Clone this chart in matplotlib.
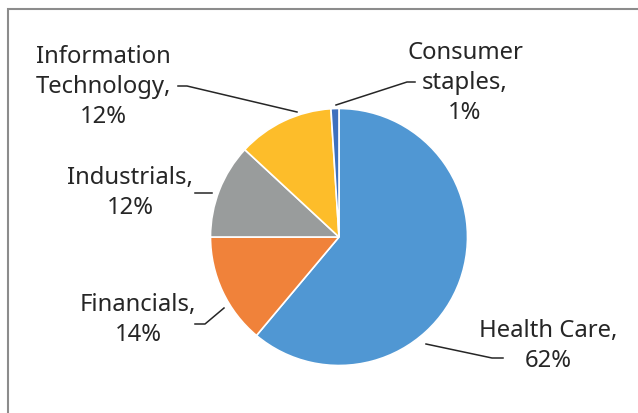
import matplotlib
matplotlib.use("Agg")
import matplotlib.pyplot as plt
from matplotlib.patches import Rectangle

# sector shares (percent), clockwise from 12 o'clock
sectors = ["Health Care", "Financials", "Industrials",
           "Information\nTechnology", "Consumer\nstaples"]
shares = [61.1, 13.9, 11.9, 12.1, 1.0]
pct_labels = ["62%", "14%", "12%", "12%", "1%"]
colors = ["#5097D3", "#F0823A", "#999C9C", "#FDBD2A", "#3E70BE"]

W, H = 638, 414
CENTER = (339, 238)      # pixel coords, y down
RADIUS = 128.5

# label anchors (pixel coords) and leader polylines, same order as sectors
label_pos = [(548, 346), (138, 320), (130, 193), (103, 87), (465, 83)]
leaders = [
    [(426, 345), (492, 359), (503, 359)],
    [(224, 309), (205, 325), (195, 325)],
    [(212, 194), (195, 194)],
    [(297, 113), (187, 87), (178, 87)],
    [(336, 106), (407, 83), (415, 83)],
]

TEXT_COLOR = "#262626"


def fy(y):
    # pixel y (down) -> data y (up)
    return H - y


def plot_chart():
    plt.rcParams["font.family"] = ["Noto Sans", "DejaVu Sans"]
    fig = plt.figure(figsize=(W / 100, H / 100), dpi=100)
    ax = fig.add_axes([0, 0, 1, 1])

    ax.pie(shares, colors=colors, startangle=90, counterclock=False,
           center=(CENTER[0], fy(CENTER[1])), radius=RADIUS,
           wedgeprops=dict(edgecolor="white", linewidth=1.2))

    for name, pct, (x, y) in zip(sectors, pct_labels, label_pos):
        ax.text(x, fy(y), f"{name},\n{pct}", ha="center", va="center",
                fontsize=17.2, color=TEXT_COLOR, linespacing=1.35)

    for pts in leaders:
        xs = [p[0] for p in pts]
        ys = [fy(p[1]) for p in pts]
        ax.plot(xs, ys, color=TEXT_COLOR, linewidth=1.1)

    ax.set_xlim(0, W)
    ax.set_ylim(0, H)
    ax.set_aspect("equal")
    ax.axis("off")

    # chart area border (runs off the right and bottom edges)
    fig.patches.append(Rectangle((7.5 / W, -0.1), 1.2, 1.1 - 10.5 / H,
                                 transform=fig.transFigure, fill=False,
                                 edgecolor="#8C8C8C", linewidth=1.5))

    fig.savefig("out.png", dpi=100, facecolor="white")


if __name__ == "__main__":
    plot_chart()
